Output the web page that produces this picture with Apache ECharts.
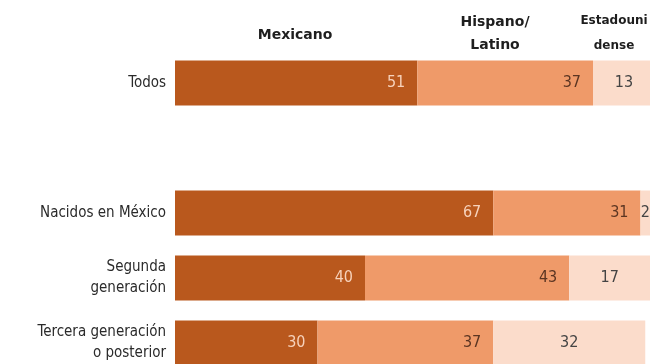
<!DOCTYPE html>
<html>
<head>
<meta charset="utf-8">
<title>Identidad</title>
<script src="https://cdn.jsdelivr.net/npm/echarts@6/dist/echarts.min.js"></script>
<style>
    html, body { margin: 0; padding: 0; background: #fff; }
    #chart_con { width: 650px; height: 364px; }
</style>
</head>
<body>
<div id="chart_con"></div>
<script>
// grupos (el hueco vacio separa "Todos" del resto)
var categories = ['Todos', '', 'Nacidos en México', 'Segunda\ngeneración', 'Tercera generación\no posterior'];
var mexicano = [51, '-', 67, 40, 30];
var hispano = [37, '-', 31, 43, 37];
var estadounidense = [13, '-', 2, 17, 32];

var labelFont = '"Liberation Sans Narrow", "DejaVu Sans Condensed", Roboto, sans-serif';
var headFont = '"DejaVu Sans", sans-serif';

var chart = echarts.init(document.getElementById('chart_con'));
var option = {
    animation: false,
    grid: {
        left: 175,
        top: 83,
        right: 0,
        bottom: 17,
        containLabel: false
    },
    xAxis: {
        type: 'value',
        min: 0,
        max: 100,
        show: false
    },
    yAxis: {
        type: 'category',
        data: categories,
        inverse: true,
        boundaryGap: false,
        axisLine: {show: false},
        axisTick: {show: false},
        splitLine: {show: false},
        axisLabel: {
            margin: 9,
            color: '#2a2a2a',
            fontSize: 15,
            lineHeight: 21,
            fontFamily: labelFont
        }
    },
    series: [
        {
            name: 'Mexicano',
            type: 'bar',
            stack: 'total',
            barWidth: 45,
            clip: false,
            data: mexicano,
            itemStyle: {color: '#b9581d'},
            label: {
                show: true,
                position: 'insideRight',
                distance: 12,
                color: '#f7d2bb',
                fontSize: 16,
                fontFamily: labelFont
            }
        },
        {
            name: 'Hispano/Latino',
            type: 'bar',
            stack: 'total',
            clip: false,
            data: hispano,
            itemStyle: {color: '#ef9a69'},
            label: {
                show: true,
                position: 'insideRight',
                distance: 12,
                color: '#5b3522',
                fontSize: 16,
                fontFamily: labelFont
            }
        },
        {
            name: 'Estadounidense',
            type: 'bar',
            stack: 'total',
            clip: false,
            data: estadounidense,
            itemStyle: {color: '#fbdccb'},
            label: {
                show: true,
                position: 'inside',
                color: '#444',
                fontSize: 16,
                fontFamily: labelFont
            }
        }
    ],
    graphic: [
        {
            type: 'text', x: 295, y: 35,
            style: {text: 'Mexicano', fontSize: 14, fontWeight: 'bold', fill: '#1e1e1e',
                align: 'center', verticalAlign: 'middle', fontFamily: headFont}
        },
        {
            type: 'text', x: 495, y: 34,
            style: {text: 'Hispano/\nLatino', fontSize: 14, fontWeight: 'bold', fill: '#1e1e1e',
                align: 'center', verticalAlign: 'middle', lineHeight: 23, fontFamily: headFont}
        },
        {
            type: 'text', x: 614, y: 33,
            style: {text: 'Estadouni\ndense', fontSize: 12, fontWeight: 'bold', fill: '#1e1e1e',
                align: 'center', verticalAlign: 'middle', lineHeight: 25, fontFamily: headFont}
        }
    ]
};
chart.setOption(option);
</script>
</body>
</html>
